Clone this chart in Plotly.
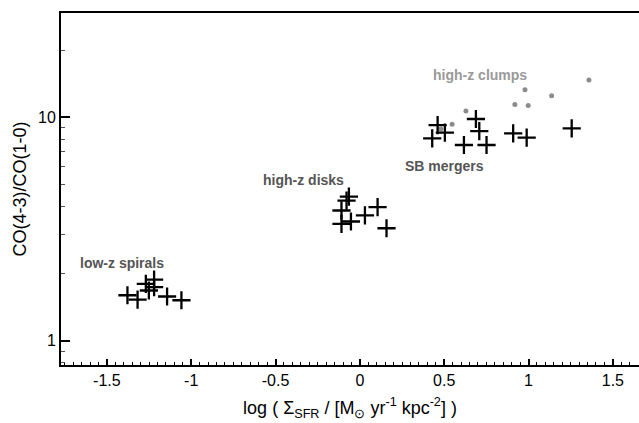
import math
import plotly.graph_objects as go

# low-z spirals
lowz_x = [-1.378, -1.318, -1.269, -1.220, -1.220, -1.251, -1.143, -1.058]
lowz_y = [1.60, 1.53, 1.80, 1.88, 1.74, 1.68, 1.58, 1.52]
# high-z disks
disk_x = [-0.065, -0.079, -0.109, -0.109, -0.053, 0.030, 0.105, 0.158]
disk_y = [4.42, 4.24, 3.83, 3.34, 3.42, 3.64, 3.97, 3.19]
# SB mergers
sb_x = [0.461, 0.429, 0.504, 0.688, 0.708, 0.617, 0.751, 0.909, 0.989, 1.256]
sb_y = [9.24, 8.06, 8.54, 9.83, 8.68, 7.52, 7.52, 8.48, 8.11, 8.93]
# high-z clumps
clump_x = [1.358, 0.979, 1.137, 0.919, 0.998, 0.629, 0.547, 0.480]
clump_y = [14.68, 13.3, 12.49, 11.43, 11.31, 10.67, 9.31, 8.87]

labels = ["low-z spirals", "high-z disks", "SB mergers", "high-z clumps"]
label_x = [-1.409, -0.332, 0.504, 0.715]
label_y = [2.24, 5.25, 6.06, 15.45]
label_colors = ["#555555", "#555555", "#555555", "#999999"]

x_range = [-1.772, 1.655]
x_ticks = [-1.5, -1, -0.5, 0, 0.5, 1, 1.5]
x_ticktext = ["-1.5", "-1", "-0.5", "0", "0.5", "1", "1.5"]
y_range = [0.78, 29.3]
y_major = [1, 10]
y_minor = [0.8, 0.9, 2, 3, 4, 5, 6, 7, 8, 9, 20]

FONT = "Liberation Sans, Arial, Helvetica, sans-serif"

fig = go.Figure()
fig.add_trace(go.Scatter(x=clump_x, y=clump_y, mode="markers",
                         marker=dict(symbol="circle", size=5, color="#8c8c8c"),
                         hoverinfo="skip", showlegend=False))
cross = dict(symbol="cross-thin", size=13, line=dict(color="black", width=2.3))
for xs, ys in [(lowz_x, lowz_y), (disk_x, disk_y), (sb_x, sb_y)]:
    fig.add_trace(go.Scatter(x=xs, y=ys, mode="markers", marker=cross,
                             showlegend=False))

for t, lx, ly, c in zip(labels, label_x, label_y, label_colors):
    fig.add_annotation(x=lx, y=math.log10(ly), yref="y", xref="x",
                       text="<b>%s</b>" % t, showarrow=False,
                       font=dict(family=FONT, size=14, color=c))

fig.update_layout(
    width=639, height=423,
    margin=dict(l=61, r=0, t=13, b=58),
    plot_bgcolor="white", paper_bgcolor="white",
    font=dict(family=FONT, size=16, color="black"),
    xaxis=dict(range=x_range, tickvals=x_ticks, ticktext=x_ticktext,
               showgrid=False, zeroline=False,
               showline=True, linecolor="black", linewidth=2, mirror=True,
               ticks="inside", ticklen=6, tickwidth=1.5, tickcolor="black",
               minor=dict(dtick=0.05, tick0=0, ticks="inside", ticklen=3,
                          tickwidth=1, tickcolor="black"),
               title=dict(text="log ( Σ<sub>SFR</sub> / [M<sub>⊙</sub> yr<sup>-1</sup> kpc<sup>-2</sup>] )",
                          font=dict(size=18), standoff=13)),
    yaxis=dict(type="log", range=[math.log10(y_range[0]), math.log10(y_range[1])],
               tickvals=y_major, ticktext=[str(v) for v in y_major],
               showgrid=False, zeroline=False,
               showline=True, linecolor="black", linewidth=2,
               ticks="inside", ticklen=9, tickwidth=2, tickcolor="black",
               minor=dict(tickvals=y_minor, ticks="inside", ticklen=4,
                          tickwidth=1, tickcolor="#555555"),
               title=dict(text="CO(4-3)/CO(1-0)", font=dict(size=18), standoff=7)),
)
fig.write_html("out.html", config={"displayModeBar": False},
               post_script="document.body.style.margin='0px';document.body.style.padding='0px';")
